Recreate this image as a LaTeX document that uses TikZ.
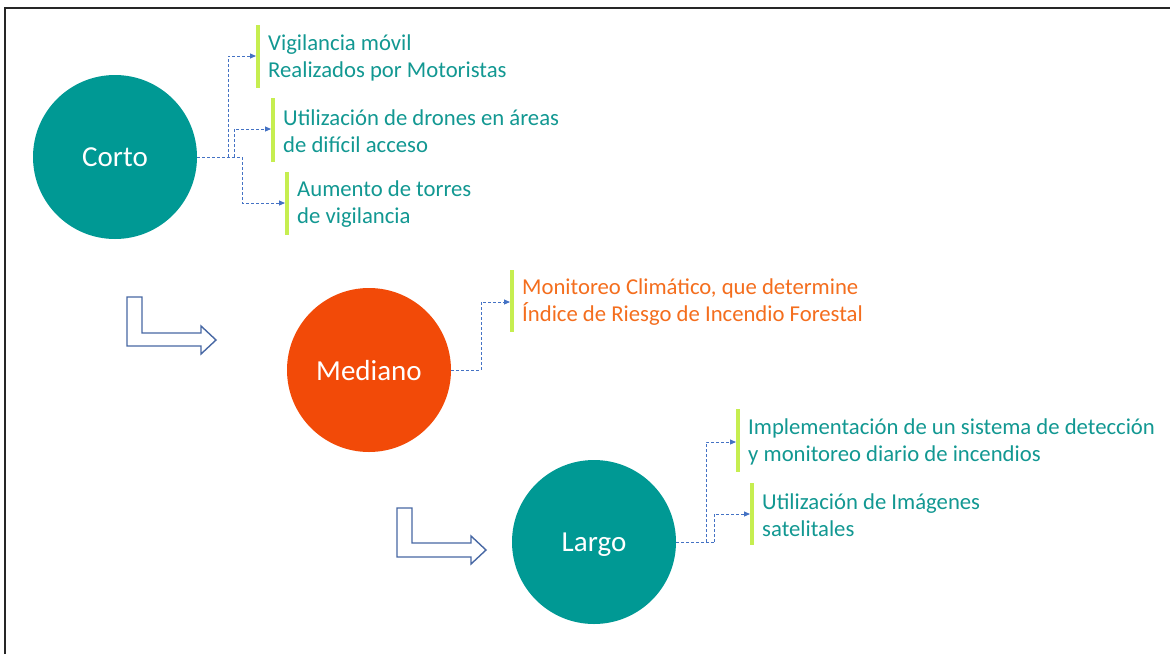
\documentclass[tikz,border=0pt]{standalone}
\usepackage{fontspec}
\setmainfont{Carlito}
\usetikzlibrary{arrows.meta}
\definecolor{tealc}{RGB}{0,153,148}
\definecolor{tealt}{RGB}{18,152,146}
\definecolor{orangec}{RGB}{242,74,8}
\definecolor{oranget}{RGB}{244,110,30}
\definecolor{limebar}{RGB}{198,238,80}
\definecolor{dashblue}{RGB}{68,114,196}
\definecolor{arrowblue}{RGB}{72,104,164}
\tikzset{
  phase/.style={circle,minimum size=164pt,inner sep=0pt,text=white,text depth=0pt,font=\fontsize{29}{33}\selectfont},
  bar/.style={draw=limebar,line width=3.5pt},
  item/.style={anchor=west,inner sep=0pt,align=left,text=tealt,font=\fontsize{22.7}{27}\selectfont},
  link/.style={draw=dashblue,densely dashed,line width=0.9pt,-{Triangle[length=6pt,width=5pt]}},
  trunk/.style={draw=dashblue,densely dashed,line width=0.9pt},
  bent/.style={draw=arrowblue,line width=1.4pt,fill=white,line join=miter}
}
\begin{document}
\begin{tikzpicture}[x=1pt,y=-1pt]
\useasboundingbox (0,0) rectangle (1170,654);
\fill[white] (0,0) rectangle (1170,654);
% frame (top and left)
\draw[line width=2.2pt,black!85] (5,654) -- (5,8) -- (1170,8);

% circles
\node[phase,fill=tealc] (corto) at (115,157) {Corto};
\node[phase,fill=orangec] (mediano) at (369,370) {Mediano};
\node[phase,fill=tealc] (largo) at (594,542) {Largo};

% bars (Corto)
\coordinate (b1t) at (258,25); \coordinate (b1b) at (258,88);
\coordinate (b2t) at (273,98); \coordinate (b2b) at (273,162);
\coordinate (b3t) at (287,172); \coordinate (b3b) at (287,235);
\draw[bar] (b1t) -- (b1b);
\draw[bar] (b2t) -- (b2b);
\draw[bar] (b3t) -- (b3b);
\coordinate (b1) at (256,56);
\coordinate (b2) at (271,129);
\coordinate (b3) at (285,203);
\node[item] (t1) at (268,58) {Vigilancia móvil\\Realizados por Motoristas};
\node[item] (t2) at (283,131) {Utilización de drones en áreas\\de difícil acceso};
\node[item] (t3) at (297,204) {Aumento de torres\\de vigilancia};

% Corto connectors
\coordinate (cj) at (242,157);
\draw[trunk] (corto.east) -- (cj);
\draw[link] (228,157) |- (b1);
\draw[link] (234,157) |- (b2);
\draw[link] (cj) |- (b3);

% Mediano
\coordinate (b4t) at (512,270); \coordinate (b4b) at (512,332);
\draw[bar] (b4t) -- (b4b);
\coordinate (b4) at (510,302);
\node[item,text=oranget] (t4) at (522,302) {Monitoreo Climático, que determine\\Índice de Riesgo de Incendio Forestal};
\draw[link] (mediano.east) -| (481,302) -- (b4);

% Largo
\coordinate (b5t) at (738,409); \coordinate (b5b) at (738,472);
\coordinate (b6t) at (752,483); \coordinate (b6b) at (752,545);
\draw[bar] (b5t) -- (b5b);
\draw[bar] (b6t) -- (b6b);
\coordinate (b5) at (736,442);
\coordinate (b6) at (750,514);
\node[item] (t5) at (748,442) {Implementación de un sistema de detección\\y monitoreo diario de incendios};
\node[item] (t6) at (762,515) {Utilización de Imágenes\\satelitales};
\coordinate (lj) at (714,542);
\draw[trunk] (largo.east) -- (lj);
\draw[link] (706,542) |- (b5);
\draw[link] (lj) |- (b6);

% bent arrows
\draw[bent] (127,297) -- (142,297) -- (142,333) -- (201,333) -- (201,326) -- (216,340) -- (201,354) -- (201,346) -- (127,346) -- cycle;
\draw[bent] (397,508) -- (412,508) -- (412,543) -- (471,543) -- (471,536) -- (486,550) -- (471,564) -- (471,557) -- (397,557) -- cycle;
\end{tikzpicture}
\end{document}
